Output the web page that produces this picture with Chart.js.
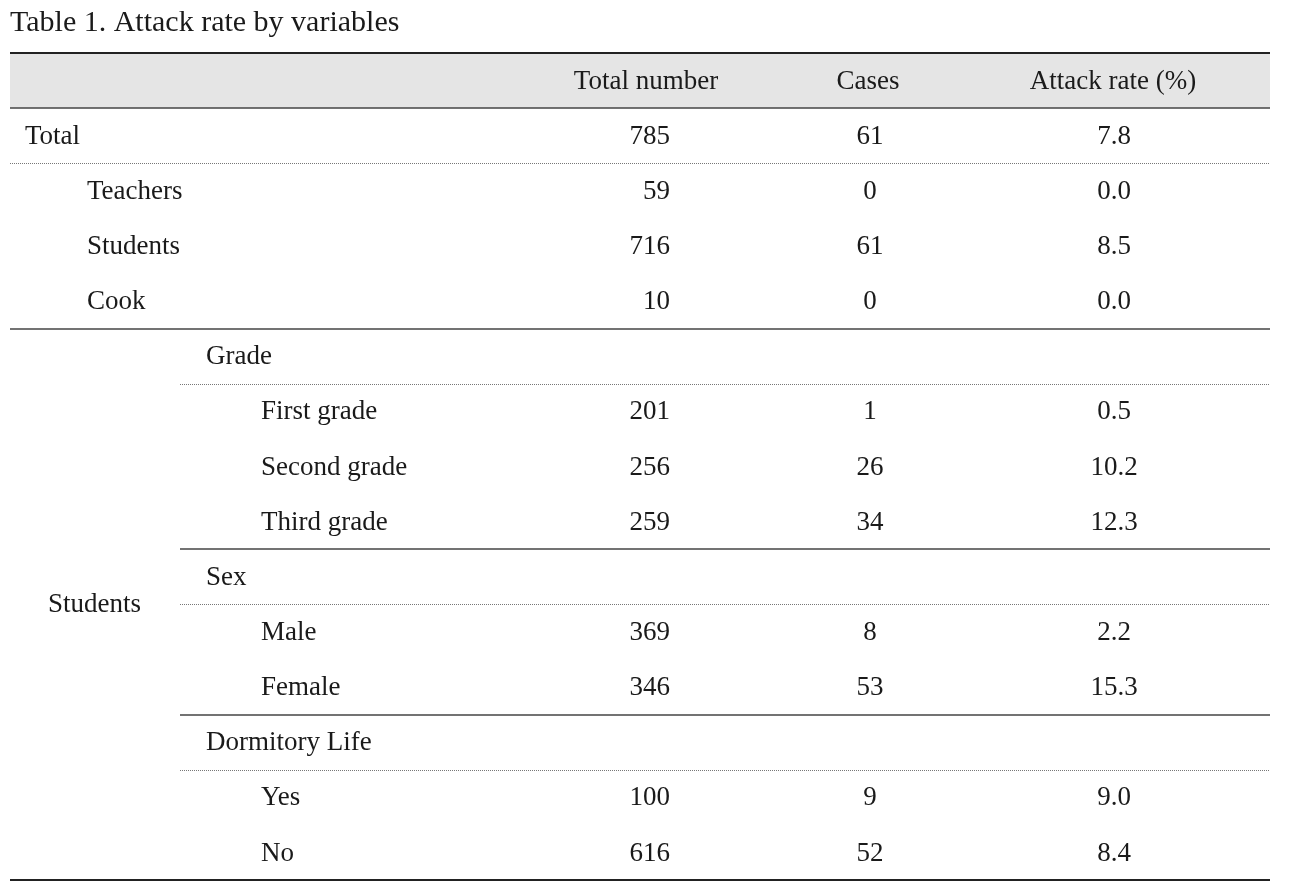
<!DOCTYPE html>
<html>
<head>
<meta charset="utf-8">
<script src="https://cdn.jsdelivr.net/npm/chart.js@4/dist/chart.umd.min.js"></script>
<style>
  html, body { margin: 0; padding: 0; background: #fff; }
  #wrap { width: 1290px; height: 883px; position: relative; }
</style>
</head>
<body>
<div id="wrap"><canvas id="table-chart"></canvas></div>
<script>
// --- Table data ---
const titleText = 'Table 1. Attack rate by variables';
const headers = ['Total number', 'Cases', 'Attack rate (%)'];
// row labels (first row is the header row, left blank)
const rowLabels = ['', 'Total', 'Teachers', 'Students', 'Cook',
  'Grade', 'First grade', 'Second grade', 'Third grade',
  'Sex', 'Male', 'Female',
  'Dormitory Life', 'Yes', 'No'];
const rowLevels = [0, 0, 1, 1, 1, 2, 3, 3, 3, 2, 3, 3, 2, 3, 3];
const groupLabel = 'Students';
const totalNumber = [null, 785, 59, 716, 10, null, 201, 256, 259, null, 369, 346, null, 100, 616];
const cases = [null, 61, 0, 61, 0, null, 1, 26, 34, null, 8, 53, null, 9, 52];
const attackRate = [null, 7.8, 0.0, 8.5, 0.0, null, 0.5, 10.2, 12.3, null, 2.2, 15.3, null, 9.0, 8.4];

// --- Layout (table units along x, row index along y) ---
const levelX = [15, 77, 196, 251];
const colX = [660, 860, 1104];
const colAlign = ['right', 'center', 'center'];
const headerX = [636, 858, 1103];
const groupX = 38;
const subStart = 170;
const FONT = '"Liberation Serif", "DejaVu Serif", serif';
const TEXT_COLOR = '#1a1a1a';

const nRows = rowLabels.length;
const toPoints = (arr, x, fmt) => arr
  .map((v, i) => v == null ? null : { x: x, y: i + 0.5, t: fmt(v), row: i })
  .filter(p => p);

const labelPoints = rowLabels
  .map((l, i) => l ? { x: levelX[rowLevels[i]], y: i + 0.5, t: l } : null)
  .filter(p => p);
labelPoints.push({ x: groupX, y: (5 + nRows) / 2, t: groupLabel });

const headerPoints = headers.map((h, i) => ({ x: headerX[i], y: 0.5, t: h }));

const datasets = [
  { label: 'labels', data: labelPoints, align: 'left' },
  { label: 'headers', data: headerPoints, align: 'center' },
  { label: headers[0], data: toPoints(totalNumber, colX[0], v => String(v)), align: colAlign[0] },
  { label: headers[1], data: toPoints(cases, colX[1], v => String(v)), align: colAlign[1] },
  { label: headers[2], data: toPoints(attackRate, colX[2], v => v.toFixed(1)), align: colAlign[2] }
].map(ds => Object.assign(ds, { pointRadius: 0, pointHoverRadius: 0, showLine: false }));

// rules: [row boundary, start x, style]
const rules = [
  [0, 0, 'thick'], [1, 0, 'solid'], [2, 0, 'dot'], [5, 0, 'solid'],
  [6, subStart, 'dot'], [9, subStart, 'solid'], [10, subStart, 'dot'],
  [12, subStart, 'solid'], [13, subStart, 'dot'], [nRows, 0, 'thick']
];

const tablePlugin = {
  id: 'tableDraw',
  beforeDatasetsDraw(chart) {
    const { ctx, scales: { x, y } } = chart;
    ctx.save();
    ctx.fillStyle = '#e5e5e5';
    ctx.fillRect(x.getPixelForValue(0), y.getPixelForValue(0),
      x.getPixelForValue(x.max) - x.getPixelForValue(0),
      y.getPixelForValue(1) - y.getPixelForValue(0));
    rules.forEach(([row, start, style]) => {
      const py = Math.round(y.getPixelForValue(row));
      ctx.beginPath();
      if (style === 'thick') {
        ctx.lineWidth = 2; ctx.strokeStyle = '#222'; ctx.setLineDash([]);
      } else if (style === 'solid') {
        ctx.lineWidth = 1.5; ctx.strokeStyle = '#444'; ctx.setLineDash([]);
      } else {
        ctx.lineWidth = 1; ctx.strokeStyle = '#777'; ctx.setLineDash([1, 1]);
      }
      const off = style === 'dot' ? 0.5 : 0;
      ctx.moveTo(x.getPixelForValue(start), py + off);
      ctx.lineTo(x.getPixelForValue(x.max), py + off);
      ctx.stroke();
    });
    ctx.restore();
  },
  afterDatasetsDraw(chart) {
    const { ctx } = chart;
    ctx.save();
    ctx.font = '27px ' + FONT;
    ctx.fillStyle = TEXT_COLOR;
    ctx.textBaseline = 'middle';
    chart.data.datasets.forEach((ds, di) => {
      const meta = chart.getDatasetMeta(di);
      ctx.textAlign = ds.align;
      meta.data.forEach((el, i) => {
        ctx.fillText(ds.data[i].t, el.x, el.y + 1);
      });
    });
    ctx.restore();
  }
};

new Chart(document.getElementById('table-chart'), {
  type: 'scatter',
  data: { datasets: datasets },
  options: {
    responsive: true,
    maintainAspectRatio: false,
    animation: false,
    layout: { padding: { left: 10, right: 20, top: 0, bottom: 3 } },
    scales: {
      x: { type: 'linear', min: 0, max: 1260, display: false },
      y: { type: 'linear', min: 0, max: nRows, reverse: true, display: false }
    },
    plugins: {
      legend: { display: false },
      tooltip: { enabled: false },
      title: {
        display: true,
        text: titleText,
        align: 'start',
        color: TEXT_COLOR,
        font: { family: FONT, size: 30, weight: 'normal', lineHeight: 1.2 },
        padding: { top: 5, bottom: 12 }
      }
    }
  },
  plugins: [tablePlugin]
});
</script>
</body>
</html>
